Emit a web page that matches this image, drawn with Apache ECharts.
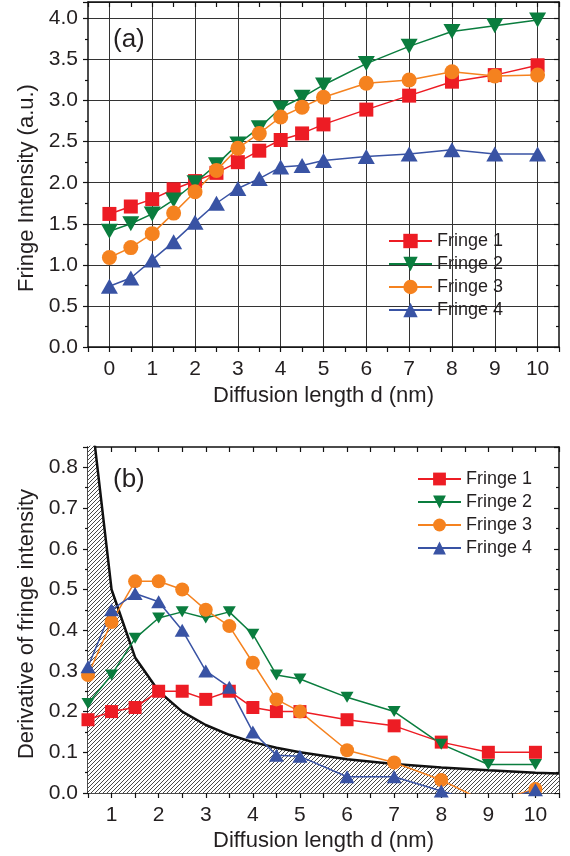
<!DOCTYPE html>
<html><head><meta charset="utf-8">
<script src="https://cdn.jsdelivr.net/npm/echarts@6/dist/echarts.min.js"></script>
<style>html,body{margin:0;padding:0;background:#fff}#c{width:570px;height:856px}</style>
</head><body><div id="c"></div>
<script>
// ---------- data: panel (a) ----------
const topX = [0, 0.5, 1, 1.5, 2, 2.5, 3, 3.5, 4, 4.5, 5, 6, 7, 8, 9, 10];
const topFringe1 = [1.62, 1.71, 1.80, 1.92, 2.02, 2.12, 2.25, 2.39, 2.52, 2.60, 2.71, 2.89, 3.06, 3.23, 3.31, 3.43];
const topFringe2 = [1.41, 1.50, 1.62, 1.79, 2.00, 2.22, 2.47, 2.67, 2.91, 3.04, 3.19, 3.45, 3.66, 3.84, 3.91, 3.98];
const topFringe3 = [1.09, 1.21, 1.38, 1.63, 1.89, 2.15, 2.42, 2.60, 2.80, 2.92, 3.04, 3.21, 3.25, 3.35, 3.30, 3.31];
const topFringe4 = [0.74, 0.84, 1.06, 1.28, 1.52, 1.75, 1.93, 2.05, 2.19, 2.21, 2.27, 2.32, 2.35, 2.40, 2.35, 2.35];
// ---------- data: panel (b) ----------
const botX = [0.5, 1, 1.5, 2, 2.5, 3, 3.5, 4, 4.5, 5, 6, 7, 8, 9, 10];
const botFringe1 = [0.18, 0.20, 0.21, 0.25, 0.25, 0.23, 0.25, 0.21, 0.20, 0.20, 0.18, 0.165, 0.125, 0.10, 0.10];
const botFringe2 = [0.22, 0.29, 0.38, 0.43, 0.445, 0.43, 0.445, 0.39, 0.29, 0.28, 0.235, 0.20, 0.12, 0.07, 0.07];
const botFringe3 = [0.29, 0.42, 0.52, 0.52, 0.50, 0.45, 0.41, 0.32, 0.23, 0.20, 0.105, 0.075, 0.032, -0.025, 0.01];
const botFringe4 = [0.31, 0.45, 0.49, 0.47, 0.40, 0.30, 0.26, 0.15, 0.093, 0.09, 0.04, 0.04, 0.005, -0.03, 0.008];
// hatched limit curve
const limitX = [0.5, 1, 1.5, 2, 2.5, 3, 3.5, 4, 4.5, 5, 6, 7, 8, 9, 10, 10.5];
const limitY = [1.0, 0.5, 0.333, 0.25, 0.2, 0.167, 0.143, 0.125, 0.111, 0.1, 0.083, 0.071, 0.0625, 0.056, 0.05, 0.048];
const seriesNames = ['Fringe 1', 'Fringe 2', 'Fringe 3', 'Fringe 4'];
const topXTicks = [-0.5, 10.5];
const topYTicks = [0, 4.2];
const botXTicks = [0.5, 10.5];
const botYTicks = [0, 0.85];

const colors = ['#ED1C24', '#0A7D3E', '#F5821F', '#3953A4'];
const FONT = 'Liberation Sans, Arial, Helvetica, sans-serif';
const TXT = '#231F20';

function zip(xs, ys) { return xs.map((x, i) => [x, ys[i]]); }

function hatchCanvas() {
  const c = document.createElement('canvas');
  c.width = 8; c.height = 8;
  const g = c.getContext('2d');
  g.fillStyle = '#fff'; g.fillRect(0, 0, 8, 8);
  g.strokeStyle = '#333'; g.lineWidth = 0.9;
  for (let k = 0; k <= 16; k += 4) {
    g.beginPath(); g.moveTo(k + 1, -1); g.lineTo(-1, k + 1); g.stroke();
  }
  return c;
}

const chart = echarts.init(document.getElementById('c'), null, { renderer: 'canvas' });

const isHalf = v => Math.abs(v * 2 - Math.round(v * 2)) < 1e-6;
const isInt = v => Math.abs(v - Math.round(v)) < 1e-6;
const isTenth = v => Math.abs(v * 10 - Math.round(v * 10)) < 1e-6;
const TICKFS = 21;

function baseAxis(extra) {
  return Object.assign({
    type: 'value',
    axisLine: { show: true, onZero: false, lineStyle: { color: '#111', width: 1.5 } },
    axisTick: { show: true, length: 5, lineStyle: { color: '#111', width: 1.2 } },
    minorTick: { show: false },
    splitLine: { show: false },
    axisLabel: { color: TXT, fontSize: TICKFS, fontFamily: FONT },
    nameTextStyle: { color: TXT, fontSize: 22, fontFamily: FONT },
  }, extra);
}

const symTop = [
  { symbol: 'rect', size: 14, rot: 0 },
  { symbol: 'triangle', size: [17, 15], rot: 180 },
  { symbol: 'circle', size: 15, rot: 0 },
  { symbol: 'triangle', size: [17, 15], rot: 0 },
];
const symBot = [
  { symbol: 'rect', size: 13, rot: 0 },
  { symbol: 'triangle', size: [13, 11], rot: 180 },
  { symbol: 'circle', size: 14, rot: 0 },
  { symbol: 'triangle', size: [15, 13], rot: 0 },
];
const topData = [topFringe1, topFringe2, topFringe3, topFringe4];
const botData = [botFringe1, botFringe2, botFringe3, botFringe4];

const series = [];
// hatched area (panel b)
series.push({
  name: 'limit', type: 'line', xAxisIndex: 2, yAxisIndex: 2,
  data: zip(limitX, limitY), showSymbol: false, symbol: 'none', z: 1,
  lineStyle: { color: '#111', width: 2.5 },
  areaStyle: { color: { image: hatchCanvas(), repeat: 'repeat' }, opacity: 1, origin: 'start' },
  silent: true,
});
topData.forEach((d, i) => {
  series.push({
    name: seriesNames[i], type: 'line', xAxisIndex: 0, yAxisIndex: 0,
    data: zip(topX, d), symbol: symTop[i].symbol, symbolSize: symTop[i].size,
    symbolRotate: symTop[i].rot, showAllSymbol: true, z: 3,
    lineStyle: { color: colors[i], width: 1.5 }, itemStyle: { color: colors[i] },
  });
});
botData.forEach((d, i) => {
  series.push({
    name: seriesNames[i] + ' ', type: 'line', xAxisIndex: 2, yAxisIndex: 2,
    data: zip(botX, d), symbol: symBot[i].symbol, symbolSize: symBot[i].size,
    symbolRotate: symBot[i].rot, showAllSymbol: true, z: 3,
    lineStyle: { color: colors[i], width: 1.5 }, itemStyle: { color: colors[i] },
  });
});

const option = {
  backgroundColor: '#fff',
  animation: false,
  grid: [
    { left: 88, right: 11, top: 2, height: 345, containLabel: false },
    { left: 88, right: 11, top: 447, height: 346, containLabel: false },
  ],
  xAxis: [
    baseAxis({ gridIndex: 0, position: 'bottom', min: topXTicks[0], max: topXTicks[1], interval: 0.5,
      name: 'Diffusion length d (nm)', nameLocation: 'middle', nameGap: 38,
      axisLabel: { color: TXT, fontSize: TICKFS, fontFamily: FONT, margin: 12,
        formatter: v => isInt(v) && v >= 0 && v <= 10 ? String(Math.round(v)) : '' },
      splitLine: { show: true, lineStyle: { color: ['rgba(0,0,0,0)', '#333'], width: 1 } } }),
    baseAxis({ gridIndex: 0, position: 'top', min: topXTicks[0], max: topXTicks[1], interval: 0.5,
      axisTick: { show: true, inside: true, length: 5, lineStyle: { color: '#111', width: 1.2 } },
      axisLabel: { show: false } }),
    baseAxis({ gridIndex: 1, position: 'bottom', min: botXTicks[0], max: botXTicks[1], interval: 0.5,
      name: 'Diffusion length d (nm)', nameLocation: 'middle', nameGap: 37,
      axisLabel: { color: TXT, fontSize: TICKFS, fontFamily: FONT, margin: 12,
        formatter: v => isInt(v) && v >= 1 && v <= 10 ? String(Math.round(v)) : '' } }),
    baseAxis({ gridIndex: 1, position: 'top', min: botXTicks[0], max: botXTicks[1], interval: 0.5,
      axisTick: { show: true, inside: true, length: 5, lineStyle: { color: '#111', width: 1.2 } },
      axisLabel: { show: false } }),
  ],
  yAxis: [
    baseAxis({ gridIndex: 0, position: 'left', min: topYTicks[0], max: topYTicks[1], interval: 0.5,
      minorTick: { show: true, splitNumber: 2, length: 3, lineStyle: { color: '#111', width: 1.2 } },
      axisLabel: { color: TXT, fontSize: TICKFS, fontFamily: FONT, margin: 10,
        formatter: v => isHalf(v) ? v.toFixed(1) : '' },
      splitLine: { show: true, lineStyle: { color: '#333', width: 1 } } }),
    baseAxis({ gridIndex: 0, position: 'right', min: topYTicks[0], max: topYTicks[1], interval: 0.5,
      axisTick: { show: true, inside: true, length: 5, lineStyle: { color: '#111', width: 1.2 } },
      minorTick: { show: true, splitNumber: 2, length: 3, lineStyle: { color: '#111', width: 1.2 } },
      axisLabel: { show: false } }),
    baseAxis({ gridIndex: 1, position: 'left', min: botYTicks[0], max: botYTicks[1], interval: 0.1,
      minorTick: { show: true, splitNumber: 2, length: 3, lineStyle: { color: '#111', width: 1.2 } },
      axisLabel: { color: TXT, fontSize: TICKFS, fontFamily: FONT, margin: 10,
        formatter: v => (isTenth(v) && v <= 0.8 + 1e-9) ? v.toFixed(1) : '' } }),
    baseAxis({ gridIndex: 1, position: 'right', min: botYTicks[0], max: botYTicks[1], interval: 0.1,
      axisTick: { show: true, inside: true, length: 5, lineStyle: { color: '#111', width: 1.2 } },
      minorTick: { show: true, splitNumber: 2, length: 3, lineStyle: { color: '#111', width: 1.2 } },
      axisLabel: { show: false } }),
  ],
  legend: [
    { data: seriesNames, orient: 'vertical', left: 388, top: 232, itemWidth: 43, itemHeight: 18, itemGap: 5,
      textStyle: { color: TXT, fontSize: 18, fontFamily: FONT },
      itemStyle: { borderWidth: 0 }, selectedMode: false, padding: 0 },
    { data: seriesNames.map(n => n + ' '), orient: 'vertical', left: 417, top: 470, itemWidth: 43, itemHeight: 16, itemGap: 5,
      formatter: n => n.trim(),
      textStyle: { color: TXT, fontSize: 18, fontFamily: FONT },
      itemStyle: { borderWidth: 0 }, selectedMode: false, padding: 0 },
  ],
  graphic: [
    { type: 'text', left: 113, top: 27, z: 100, style: { text: '(a)', font: '26px ' + FONT, fill: TXT } },
    { type: 'text', left: 113, top: 467, z: 100, style: { text: '(b)', font: '26px ' + FONT, fill: TXT } },
    { type: 'text', x: 27, y: 188, rotation: Math.PI / 2, z: 100,
      style: { text: 'Fringe Intensity (a.u.)', font: '22px ' + FONT, fill: TXT, align: 'center', verticalAlign: 'middle' } },
    { type: 'text', x: 27, y: 624, rotation: Math.PI / 2, z: 100,
      style: { text: 'Derivative of fringe intensity', font: '22px ' + FONT, fill: TXT, align: 'center', verticalAlign: 'middle' } },
  ],
  series: series,
};
chart.setOption(option);
</script>
</body></html>
